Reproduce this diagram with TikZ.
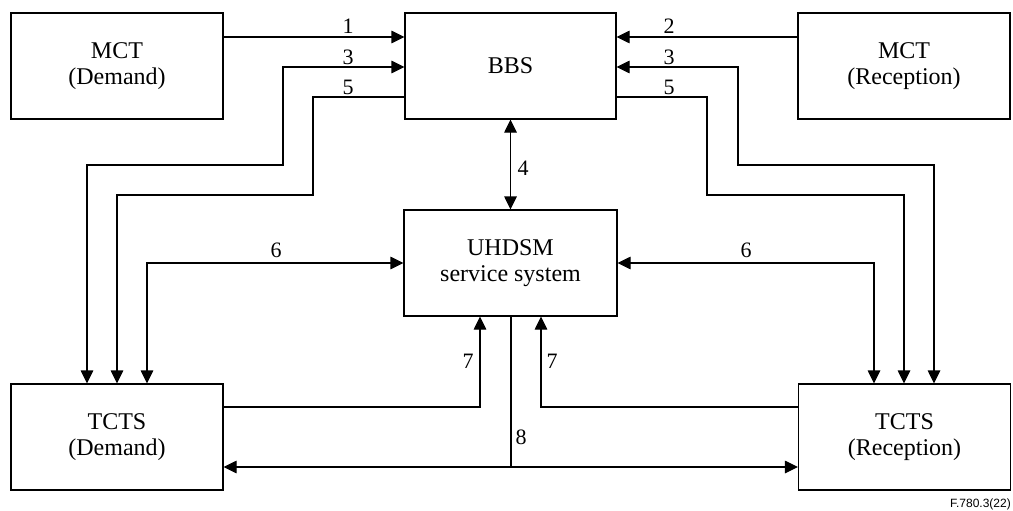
\documentclass[tikz,border=0pt]{standalone}
\usepackage{fontspec}
\setmainfont{Liberation Serif}
\newfontfamily\figsans{Liberation Sans}
\usetikzlibrary{arrows.meta}

\begin{document}
\begin{tikzpicture}[
  x=1pt, y=-1pt,
  box/.style={draw, line width=1.1pt, minimum width=212pt, minimum height=106pt,
              inner sep=0pt, align=center, font=\fontsize{24}{26}\selectfont},
  lbl/.style={inner sep=0pt, font=\fontsize{22}{24}\selectfont},
  arrow/.style={-{Triangle[length=13pt, width=12.5pt]}, line width=1.1pt},
  dblarrow/.style={{Triangle[length=13pt, width=12.5pt]}-{Triangle[length=13pt, width=12.5pt]},
                   line width=1.1pt},
  plain/.style={line width=1.1pt},
]
  \useasboundingbox (0,0) rectangle (1013,511);

  % Boxes
  \node[box] (mctd) at (117, 66) {MCT\\(Demand)};
  \node[box, minimum width=211pt] (bbs) at (510.5, 66) {BBS};
  \node[box] (mctr) at (904, 66) {MCT\\(Reception)};
  \node[box, minimum width=213pt] (uhdsm) at (510.5, 263) {UHDSM\\service system};
  \node[box] (tctsd) at (117, 437) {TCTS\\(Demand)};
  \node[box] (tctsr) at (904.5, 437) {TCTS\\(Reception)};

  % MCT to BBS
  \draw[arrow] (mctd.east |- 0,37) -- (bbs.west |- 0,37);
  \node[lbl] (n1) at (348, 26) {1};
  \draw[arrow] (mctr.west |- 0,37) -- (bbs.east |- 0,37);
  \node[lbl] (n2) at (669, 26) {2};

  % BBS to TCTS, left
  \draw[dblarrow] (tctsd.north -| 87,0) |- (283,165) |- (bbs.west |- 0,67);
  \node[lbl] (n3l) at (348, 57) {3};
  \draw[arrow] (bbs.west |- 0,97) -| (313,195) -| (tctsd.north -| 117,0);
  \node[lbl] (n5l) at (348, 87) {5};

  % BBS to TCTS, right
  \draw[dblarrow] (tctsr.north -| 934,0) |- (738,165) |- (bbs.east |- 0,67);
  \node[lbl] (n3r) at (669, 57) {3};
  \draw[arrow] (bbs.east |- 0,97) -| (707,195) -| (tctsr.north -| 904,0);
  \node[lbl] (n5r) at (669, 87) {5};

  % BBS to UHDSM
  \draw[dblarrow] (bbs.south) -- (uhdsm.north);
  \node[lbl] (n4) at (523, 168) {4};

  % UHDSM to TCTS
  \draw[dblarrow] (uhdsm.west) -| (tctsd.north -| 147,0);
  \node[lbl] (n6l) at (276, 250) {6};
  \draw[dblarrow] (uhdsm.east) -| (tctsr.north -| 874,0);
  \node[lbl] (n6r) at (746, 250) {6};

  % TCTS to UHDSM
  \draw[arrow] (tctsd.east |- 0,407) -| (uhdsm.south -| 480,0);
  \node[lbl] (n7l) at (468, 361) {7};
  \draw[arrow] (tctsr.west |- 0,407) -| (uhdsm.south -| 541,0);
  \node[lbl] (n7r) at (552, 361) {7};

  % TCTS to TCTS
  \coordinate (j8) at (511, 467);
  \draw[dblarrow] (tctsd.east |- j8) -- (tctsr.west |- j8);
  \draw[plain] (uhdsm.south -| j8) -- (j8);
  \node[lbl] (n8) at (521, 437) {8};

  \node[anchor=base east, inner sep=0pt, font=\figsans\fontsize{12}{14}\selectfont]
    (fig) at (1011, 507) {F.780.3(22)};
\end{tikzpicture}
\end{document}
